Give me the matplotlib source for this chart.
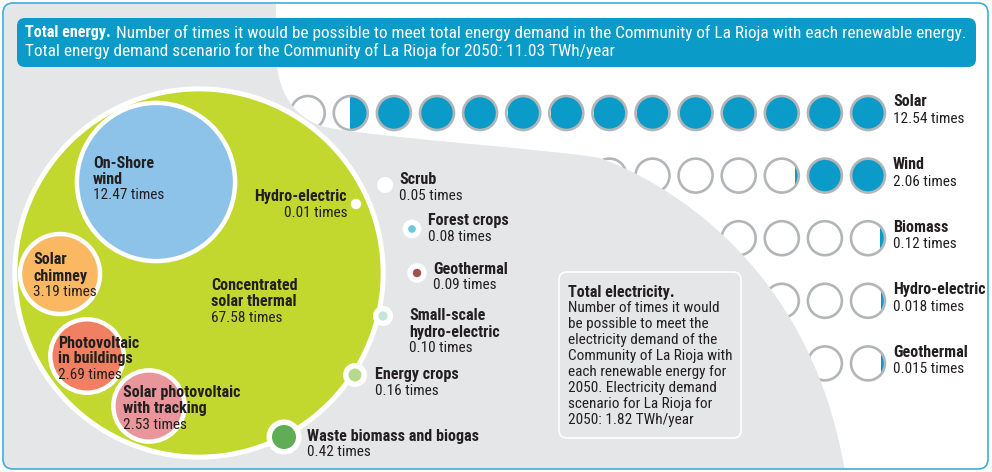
import matplotlib
matplotlib.use('Agg')
import matplotlib.pyplot as plt
from matplotlib.patches import Circle, FancyBboxPatch, PathPatch, Rectangle
from matplotlib.path import Path
import numpy as np

plt.rcParams['font.family'] = ['Liberation Sans Narrow', 'Roboto Condensed', 'Liberation Sans', 'DejaVu Sans']

# Data: total energy (times the 2050 demand can be met)
bubble_names = ['Concentrated\nsolar thermal', 'On-Shore\nwind', 'Solar\nchimney',
                'Photovoltaic\nin buildings', 'Solar photovoltaic\nwith tracking']
bubble_values = [67.58, 12.47, 3.19, 2.69, 2.53]

small_names = ['Hydro-electric', 'Scrub', 'Forest crops', 'Geothermal',
               'Small-scale\nhydro-electric', 'Energy crops', 'Waste biomass and biogas']
small_values = [0.01, 0.05, 0.08, 0.09, 0.10, 0.16, 0.42]

# Data: total electricity
elec_names = ['Solar', 'Wind', 'Biomass', 'Hydro-electric', 'Geothermal']
elec_values = [12.54, 2.06, 0.12, 0.018, 0.015]

title_bold = 'Total energy.'
title_rest = 'Number of times it would be possible to meet total energy demand in the Community of La Rioja with each renewable energy.'
title_line2 = 'Total energy demand scenario for the Community of La Rioja for 2050: 11.03 TWh/year'
elec_title = 'Total electricity.'
elec_lines = ['Number of times it would', 'be possible to meet the', 'electricity demand of the',
              'Community of La Rioja with', 'each renewable energy for', '2050. Electricity demand',
              'scenario for La Rioja for', '2050: 1.82 TWh/year']

# Colours
grey_bg = '#e5e6e7'
blue = '#0a9bc9'
ring_grey = '#b3b6b9'
txt = '#231f20'
green_big = '#c2d82e'
bubble_colors = [green_big, '#8ec3e9', '#fbb863', '#f17f62', '#e8969b']
small_colors = ['white', 'white', '#6ecadb', '#a2534b', '#c3e4d6', '#b7d98c', '#5fae57']

# Layout (pixel positions)
bubble_xy = [(199, 273), (156, 182), (60, 274), (87, 356), (149, 406)]
bubble_lbl = [(211, 286, 'left'), (93, 163, 'left'), (33, 260, 'left'), (58, 343, 'left'), (123, 393, 'left')]
small_xy = [(356, 204), (385, 185), (412, 229), (417, 273), (383, 316), (355, 375), (284, 437)]
small_lbl = [(347, 197, 'right'), (399, 180, 'left'), (428, 221, 'left'), (433, 269, 'left'),
             (409, 316, 'left'), (375, 375, 'left'), (307, 436, 'left')]
k = 22.4           # radius per sqrt(times)
row_x0, row_dx = 868, 43.1
row_y0, row_dy = 113, 62.6
n_circ = 14

fig = plt.figure(figsize=(9.92, 4.72), dpi=100)
ax = fig.add_axes([0, 0, 1, 1])
ax.set_xlim(0, 992)
ax.set_ylim(472, 0)
ax.axis('off')
ren = fig.canvas.get_renderer()


def fit_size(s, weight, target_px, base=10):
    # font size that makes string s about target_px wide
    t = ax.text(0, 0, s, fontsize=base, fontweight=weight)
    w = t.get_window_extent(renderer=ren).width
    t.remove()
    return base * target_px / w


fs = fit_size('Community of La Rioja with', 'normal', 164)
fs_b = fit_size('Waste biomass and biogas', 'bold', 173)
fs_t = fit_size(title_rest, 'normal', 846)
fs_tb = fit_size(title_bold, 'bold', 86)

# frame + grey background
frame = FancyBboxPatch((3, 3), 985, 466, boxstyle='round,pad=0,rounding_size=10',
                       fc='white', ec='none', zorder=0)
ax.add_patch(frame)
verts = [(0, 0), (276, 0), (276, 55),
         (278, 100), (300, 122), (330, 128),
         (400, 140), (540, 148), (600, 158),
         (660, 180), (810, 260), (845, 472),
         (0, 472), (0, 0)]
codes = [Path.MOVETO, Path.LINETO, Path.LINETO,
         Path.CURVE4, Path.CURVE4, Path.CURVE4,
         Path.CURVE4, Path.CURVE4, Path.CURVE4,
         Path.CURVE4, Path.CURVE4, Path.CURVE4,
         Path.LINETO, Path.CLOSEPOLY]
grey = PathPatch(Path(verts, codes), fc=grey_bg, ec='none', zorder=3)
ax.add_patch(grey)
grey.set_clip_path(frame)

# electricity rows of circles
R = 17
for j, (name, val) in enumerate(zip(elec_names, elec_values)):
    cy = row_y0 + j * row_dy
    for i in range(n_circ):
        cx = row_x0 - i * row_dx
        frac = min(max(val - i, 0), 1)
        ax.add_patch(Circle((cx, cy), R, fc='white', ec='none', zorder=1.5))
        if frac > 0:
            r_in = R - 1.3
            w = max(frac * 2 * r_in, 2.5)
            fill = Circle((cx, cy), R, fc=blue, ec='none', zorder=2)
            ax.add_patch(fill)
            clip = Rectangle((cx + r_in - w, cy - 30), w + 10, 60, transform=ax.transData)
            fill.set_clip_path(clip)
        ax.add_patch(Circle((cx, cy), R, fc='none', ec=ring_grey, lw=1.9, zorder=2.5))
    ax.text(893, cy - 11, name, fontsize=fs_b, fontweight='bold', color=txt, va='center', zorder=10)
    vs = f'{val:.2f}' if val >= 0.1 else f'{val:.3f}'
    ax.text(893, cy + 6, f'{vs} times', fontsize=fs, color=txt, va='center', zorder=10)

# electricity note box
ax.add_patch(FancyBboxPatch((559, 272), 182, 166, boxstyle='round,pad=0,rounding_size=8',
                            fc=grey_bg, ec='white', lw=1.2, zorder=4))
ax.text(568, 292, elec_title, fontsize=fs_b, fontweight='bold', color=txt, va='center', zorder=10)
for i, line in enumerate(elec_lines):
    ax.text(568, 308 + 16 * i, line, fontsize=fs, color=txt, va='center', zorder=10)


def put_label(x, y, name, value, ha):
    lines = name.split('\n')
    for i, ln in enumerate(lines):
        ax.text(x, y + 16 * i, ln, fontsize=fs_b, fontweight='bold', color=txt,
                ha=ha, va='center', zorder=10)
    ax.text(x, y + 16 * len(lines), f'{value:.2f} times', fontsize=fs, color=txt,
            ha=ha, va='center', zorder=10)


# total energy bubbles
for i, (name, val) in enumerate(zip(bubble_names, bubble_values)):
    r = k * np.sqrt(val)
    ax.add_patch(Circle(bubble_xy[i], r, fc=bubble_colors[i], ec='white',
                        lw=3.6 if i == 0 else 3.2, zorder=5 if i == 0 else 6))
    x, y, ha = bubble_lbl[i]
    put_label(x, y, name, val, ha)

for i, (name, val) in enumerate(zip(small_names, small_values)):
    r = k * np.sqrt(val)
    ax.add_patch(Circle(small_xy[i], r + 3, fc='white', ec='none', zorder=6))
    ax.add_patch(Circle(small_xy[i], max(r - 2.5, 1.2), fc=small_colors[i], ec='none', zorder=7))
    x, y, ha = small_lbl[i]
    put_label(x, y, name, val, ha)

# title bar
ax.add_patch(FancyBboxPatch((17, 18), 959, 49, boxstyle='round,pad=0,rounding_size=8',
                            fc=blue, ec='none', zorder=8))
t1 = ax.text(25, 33, title_bold, fontsize=fs_tb, fontweight='bold', color='white', va='center', zorder=10)
wb = t1.get_window_extent(renderer=ren).width
ax.text(25 + wb + 5, 33, title_rest, fontsize=fs_t, color='white', va='center', zorder=10)
ax.text(25, 51, title_line2, fontsize=fs_t, color='white', va='center', zorder=10)

# frame border on top
ax.add_patch(FancyBboxPatch((3, 3), 985, 466, boxstyle='round,pad=0,rounding_size=10',
                            fc='none', ec='#3fafd8', lw=1.2, zorder=9))

fig.savefig('out.png', dpi=100)
